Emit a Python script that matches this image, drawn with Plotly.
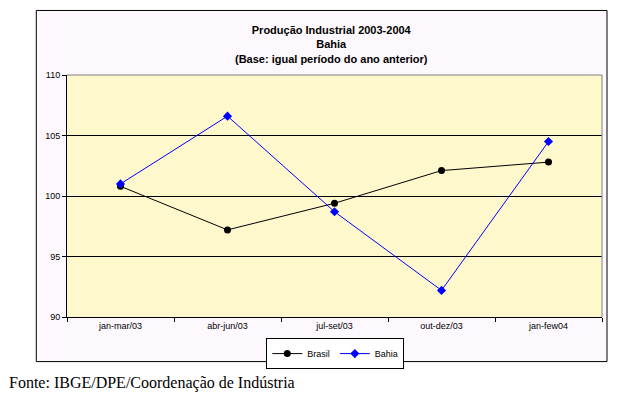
import plotly.graph_objects as go

categories = ["jan-mar/03", "abr-jun/03", "jul-set/03", "out-dez/03", "jan-few04"]
brasil = [100.8, 97.2, 99.4, 102.1, 102.8]
bahia = [101.0, 106.6, 98.7, 92.2, 104.5]
y_ticks = [90, 95, 100, 105, 110]

W, H = 627, 398
L, R, T, B = 66.7, 601.7, 74.7, 317.3
pw, ph = R - L, B - T

def px(x):
    return (x - L) / pw

def py(y):
    return (B - y) / ph

fig = go.Figure()
fig.add_trace(go.Scatter(x=categories, y=brasil, name="Brasil", mode="lines+markers",
                         line=dict(color="black", width=1),
                         marker=dict(symbol="circle", size=7, color="black")))
fig.add_trace(go.Scatter(x=categories, y=bahia, name="Bahia", mode="lines+markers",
                         line=dict(color="#0000FF", width=1),
                         marker=dict(symbol="diamond", size=7, color="#0000FF")))

fig.update_layout(
    width=W, height=H,
    margin=dict(l=L, r=W - R, t=T, b=H - B, pad=0),
    paper_bgcolor="white",
    plot_bgcolor="#FFF8CC",
    font=dict(family="Liberation Sans, Arial", size=9, color="black"),
    showlegend=True,
    legend=dict(orientation="h", x=px(335), y=py(354), xanchor="center", yanchor="middle",
                bgcolor="white", bordercolor="black", borderwidth=1,
                font=dict(size=9), itemwidth=30, tracegroupgap=0),
    xaxis=dict(type="category", range=[-0.5, 4.5], showgrid=False,
               showline=True, linecolor="black", linewidth=1,
               ticks="outside", ticklen=4, tickcolor="black", tickson="boundaries",
               tickfont=dict(size=9), fixedrange=True),
    yaxis=dict(range=[90, 110], tickvals=y_ticks, showgrid=True, gridcolor="black", gridwidth=1,
               showline=True, linecolor="black", linewidth=1, zeroline=False,
               ticks="outside", ticklen=4, tickcolor="black",
               tickfont=dict(size=9), fixedrange=True),
    shapes=[
        dict(type="rect", xref="paper", yref="paper", x0=px(36), x1=px(606.7), y0=py(362), y1=py(10),
             line=dict(color="black", width=1), fillcolor="#FDF8FD", layer="below"),
        dict(type="rect", xref="paper", yref="paper", x0=0, x1=1, y0=0, y1=1,
             line=dict(width=0), fillcolor="#FFF8CC", layer="below"),
        dict(type="line", xref="paper", yref="paper", x0=0, x1=1, y0=1, y1=1,
             line=dict(color="#808080", width=1), layer="above"),
        dict(type="line", xref="paper", yref="paper", x0=1, x1=1, y0=0, y1=1,
             line=dict(color="#808080", width=1), layer="above"),
    ],
    annotations=[
        dict(text="<b>Produção Industrial 2003-2004</b><br><b>Bahia</b><br><b>(Base: igual período do ano anterior)</b>",
             xref="paper", yref="paper", x=px(331), y=py(44), xanchor="center", yanchor="middle",
             showarrow=False, font=dict(size=11, family="Liberation Sans, Arial")),
        dict(text="Fonte: IBGE/DPE/Coordenação de Indústria",
             xref="paper", yref="paper", x=px(7), y=py(383), xanchor="left", yanchor="middle",
             showarrow=False, font=dict(size=16, family="Liberation Serif, Times New Roman")),
    ],
)

fig.write_html("out.html", config={"displayModeBar": False},
               post_script="document.body.style.margin='0';")
